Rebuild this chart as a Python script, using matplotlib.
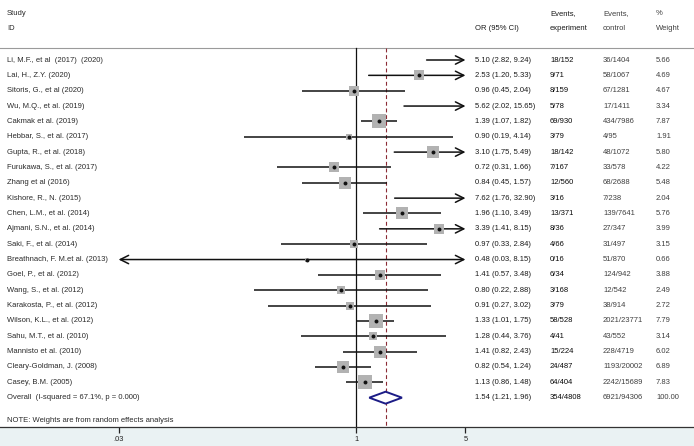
import matplotlib
matplotlib.use("Agg")
import matplotlib.pyplot as plt
from matplotlib.patches import Polygon
from matplotlib.transforms import blended_transform_factory

plt.rcParams['font.family'] = ['Liberation Sans', 'DejaVu Sans']

studies = ["Li, M.F., et al  (2017)  (2020)", "Lai, H., Z.Y. (2020)", "Sitoris, G., et al (2020)",
           "Wu, M.Q., et al. (2019)", "Cakmak et al. (2019)", "Hebbar, S., et al. (2017)",
           "Gupta, R., et al. (2018)", "Furukawa, S., et al. (2017)", "Zhang et al (2016)",
           "Kishore, R., N. (2015)", "Chen, L.M., et al. (2014)", "Ajmani, S.N., et al. (2014)",
           "Saki, F., et al. (2014)", "Breathnach, F. M.et al. (2013)", "Goel, P., et al. (2012)",
           "Wang, S., et al. (2012)", "Karakosta, P., et al. (2012)", "Wilson, K.L., et al. (2012)",
           "Sahu, M.T., et al. (2010)", "Mannisto et al. (2010)", "Cleary-Goldman, J. (2008)",
           "Casey, B.M. (2005)"]
or_est = [5.10, 2.53, 0.96, 5.62, 1.39, 0.90, 3.10, 0.72, 0.84, 7.62, 1.96, 3.39, 0.97, 0.48,
          1.41, 0.80, 0.91, 1.33, 1.28, 1.41, 0.82, 1.13]
or_lo = [2.82, 1.20, 0.45, 2.02, 1.07, 0.19, 1.75, 0.31, 0.45, 1.76, 1.10, 1.41, 0.33, 0.03,
         0.57, 0.22, 0.27, 1.01, 0.44, 0.82, 0.54, 0.86]
or_hi = [9.24, 5.33, 2.04, 15.65, 1.82, 4.14, 5.49, 1.66, 1.57, 32.90, 3.49, 8.15, 2.84, 8.15,
         3.48, 2.88, 3.02, 1.75, 3.76, 2.43, 1.24, 1.48]
ev_exp = ["18/152", "9/71", "8/159", "5/78", "69/930", "3/79", "18/142", "7/167", "12/560",
          "3/16", "13/371", "8/36", "4/66", "0/16", "6/34", "3/168", "3/79", "58/528", "4/41",
          "15/224", "24/487", "64/404"]
ev_ctl = ["36/1404", "58/1067", "67/1281", "17/1411", "434/7986", "4/95", "48/1072", "33/578",
          "68/2688", "7/238", "139/7641", "27/347", "31/497", "51/870", "124/942", "12/542",
          "38/914", "2021/23771", "43/552", "228/4719", "1193/20002", "2242/15689"]
weights = [5.66, 4.69, 4.67, 3.34, 7.87, 1.91, 5.80, 4.22, 5.48, 2.04, 5.76, 3.99, 3.15, 0.66,
           3.88, 2.49, 2.72, 7.79, 3.14, 6.02, 6.89, 7.83]
overall_label = "Overall  (I-squared = 67.1%, p = 0.000)"
overall = (1.54, 1.21, 1.96)
overall_exp = "354/4808"
overall_ctl = "6921/94306"
overall_w = "100.00"
xticks = [0.03, 1, 5]
xticklabels = [".03", "1", "5"]

W, H = 694, 446
fig = plt.figure(figsize=(W / 100, H / 100), dpi=100)
fig.patch.set_facecolor('#EAF2F3')
band = 19
ax = fig.add_axes([0, band / H, 1, 1 - band / H])
ax.set_facecolor('white')
ax.set_xscale('log')
xmin, xmax = 0.03, 5
ax.set_xlim(0.00522, 145.5)
ax.set_ylim(24.91, -2.909)
for s in ['top', 'right', 'left']:
    ax.spines[s].set_visible(False)
ax.spines['bottom'].set_color('#333333')
ax.spines['bottom'].set_linewidth(0.9)
ax.set_yticks([])
ax.set_xticks(xticks)
ax.set_xticklabels(xticklabels)
ax.minorticks_off()
ax.tick_params(axis='x', length=4, width=0.9, color='#222222', labelsize=5.4, pad=2.5,
               labelcolor='#222222')

n = len(studies)
rows = list(range(1, n + 1))
top_line = 0.22
ax.axhline(top_line, color='#9a9a9a', lw=0.8)
ax.plot([1, 1], [top_line, 24.91], color='#111111', lw=0.9, clip_on=False)
ax.plot([overall[0], overall[0]], [top_line, 24.91], color='#8B2B35', lw=0.8,
        dashes=(3.5, 2.5))

lc = '#111111'
for r, e, lo, hi, w in zip(rows, or_est, or_lo, or_hi, weights):
    l = max(lo, xmin)
    h = min(hi, xmax)
    left_arrow = lo <= xmin
    right_arrow = hi > xmax
    if left_arrow and right_arrow:
        style = '<->'
    elif left_arrow:
        style = '<-'
    elif right_arrow:
        style = '->'
    else:
        style = None
    if style is None:
        ax.plot([l, h], [r, r], color=lc, lw=1.1, solid_capstyle='butt')
    else:
        ax.annotate('', xy=(h, r), xytext=(l, r),
                    arrowprops=dict(arrowstyle=style + ',head_length=0.6,head_width=0.3',
                                    color=lc, lw=1.1, shrinkA=0, shrinkB=0))
    if xmin <= e <= xmax:
        ax.scatter([e], [r], marker='s', s=12 * w, color='#B2B2B2', linewidths=0, zorder=3)
        ax.scatter([e], [r], marker='o', s=8, color='#111111', linewidths=0, zorder=4)

ro = n + 1
est, olo, ohi = overall
dh = 0.39
diamond = Polygon([(olo, ro), (est, ro - dh), (ohi, ro), (est, ro + dh)], closed=True,
                  facecolor='white', edgecolor='#1C1C86', lw=1.4, zorder=5)
ax.add_patch(diamond)

tr = blended_transform_factory(ax.transAxes, ax.transData)
fs = 5.5
cols = {'study': 7 / W, 'or': 475 / W, 'exp': 550 / W, 'ctl': 603 / W, 'w': 656 / W}
hy1, hy2 = -2.0, -1.02
kw = dict(transform=tr, fontsize=fs, va='center', ha='left')
ax.text(cols['study'], hy1, "Study", color='#2a2a2a', **kw)
ax.text(cols['study'], hy2, "ID", color='#2a2a2a', **kw)
ax.text(cols['or'], hy2, "OR (95% CI)", color='#1a1a1a', **kw)
ax.text(cols['exp'], hy1, "Events,", color='#1a1a1a', **kw)
ax.text(cols['exp'], hy2, "experiment", color='#1a1a1a', **kw)
ax.text(cols['ctl'], hy1, "Events,", color='#404040', **kw)
ax.text(cols['ctl'], hy2, "control", color='#404040', **kw)
ax.text(cols['w'], hy1, "%", color='#404040', **kw)
ax.text(cols['w'], hy2, "Weight", color='#404040', **kw)

for r, s, e, lo, hi, ee, ec, w in zip(rows, studies, or_est, or_lo, or_hi, ev_exp, ev_ctl, weights):
    ax.text(cols['study'], r, s, color='#2a2a2a', **kw)
    ax.text(cols['or'], r, f"{e:.2f} ({lo:.2f}, {hi:.2f})", color='#1a1a1a', **kw)
    ax.text(cols['exp'], r, ee, color='#0a0a0a', **kw)
    ax.text(cols['ctl'], r, ec, color='#404040', **kw)
    ax.text(cols['w'], r, f"{w:.2f}", color='#404040', **kw)

ax.text(cols['study'], ro, overall_label, color='#2a2a2a', **kw)
ax.text(cols['or'], ro, f"{est:.2f} ({olo:.2f}, {ohi:.2f})", color='#1a1a1a', **kw)
ax.text(cols['exp'], ro, overall_exp, color='#0a0a0a', **kw)
ax.text(cols['ctl'], ro, overall_ctl, color='#404040', **kw)
ax.text(cols['w'], ro, overall_w, color='#404040', **kw)
ax.text(cols['study'], 24.5, "NOTE: Weights are from random effects analysis", color='#2a2a2a', **kw)

fig.savefig('out.png', dpi=100, facecolor=fig.get_facecolor())
